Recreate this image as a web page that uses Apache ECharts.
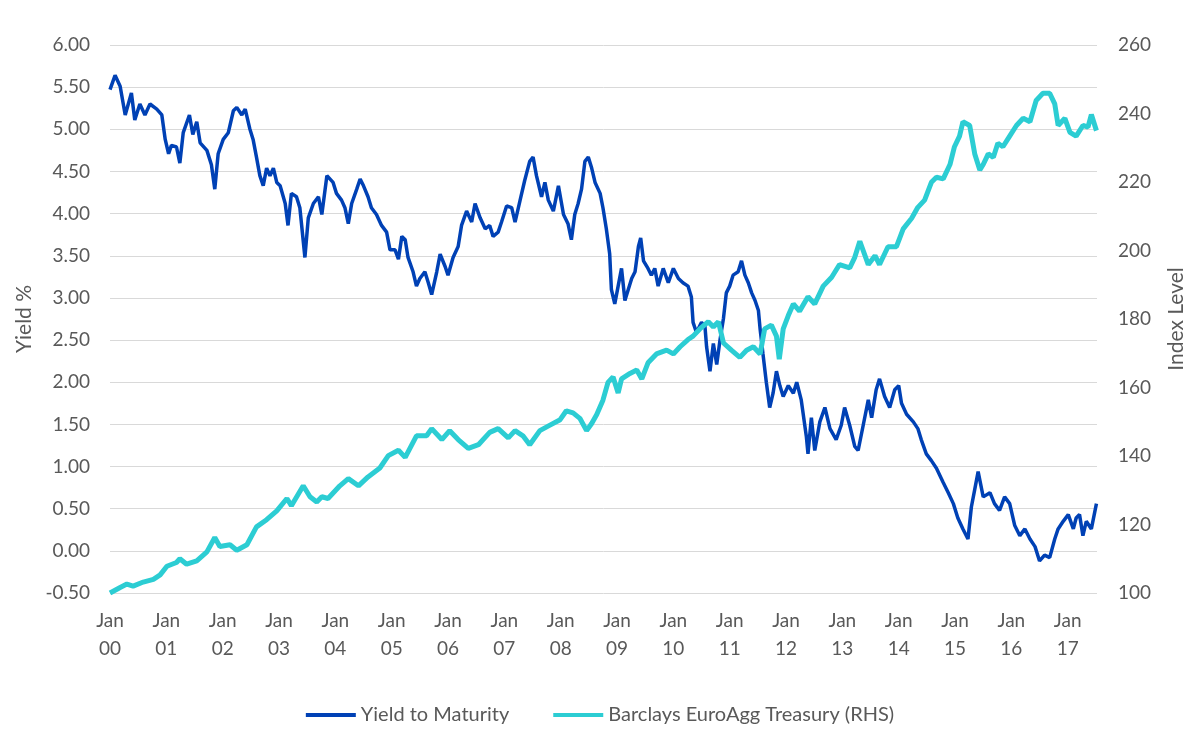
<!DOCTYPE html>
<html>
<head>
<meta charset="utf-8">
<script src="https://cdn.jsdelivr.net/npm/echarts@6/dist/echarts.min.js"></script>
<style>
  html, body { margin: 0; padding: 0; background: #fff; }
  #main { width: 1200px; height: 739px; }
</style>
</head>
<body>
<div id="main"></div>
<script>
// x = years since Jan 2000
const yearTicks = ['00', '01', '02', '03', '04', '05', '06', '07', '08', '09',
  '10', '11', '12', '13', '14', '15', '16', '17'];

const seriesNames = ['Yield to Maturity', 'Barclays EuroAgg Treasury (RHS)'];

const ytm = [
  [0, 5.47], [0.09, 5.64], [0.18, 5.51], [0.27, 5.17], [0.38, 5.43], [0.44, 5.11], [0.53, 5.30], [0.62, 5.17],
  [0.71, 5.30], [0.83, 5.24], [0.92, 5.17], [0.98, 4.88], [1.04, 4.71], [1.09, 4.81], [1.18, 4.79], [1.24, 4.60],
  [1.30, 4.96], [1.41, 5.17], [1.47, 4.94], [1.54, 5.09], [1.60, 4.84], [1.72, 4.75], [1.80, 4.58], [1.86, 4.29],
  [1.92, 4.71], [2.01, 4.88], [2.10, 4.96], [2.19, 5.22], [2.25, 5.26], [2.34, 5.17], [2.40, 5.24], [2.48, 5.01],
  [2.54, 4.88], [2.60, 4.67], [2.66, 4.45], [2.72, 4.33], [2.78, 4.54], [2.84, 4.45], [2.90, 4.54], [2.96, 4.37],
  [3.02, 4.33], [3.11, 4.12], [3.16, 3.86], [3.22, 4.24], [3.31, 4.20], [3.37, 4.07], [3.46, 3.48], [3.52, 3.95],
  [3.61, 4.12], [3.70, 4.20], [3.76, 3.99], [3.85, 4.45], [3.96, 4.37], [4.02, 4.24], [4.11, 4.16], [4.17, 4.07],
  [4.23, 3.88], [4.29, 4.12], [4.38, 4.29], [4.44, 4.41], [4.50, 4.33], [4.58, 4.20], [4.64, 4.07], [4.73, 3.99],
  [4.82, 3.86], [4.91, 3.78], [4.97, 3.57], [5.06, 3.57], [5.12, 3.46], [5.18, 3.73], [5.24, 3.69], [5.29, 3.48],
  [5.38, 3.31], [5.44, 3.14], [5.50, 3.23], [5.59, 3.31], [5.65, 3.18], [5.71, 3.04], [5.80, 3.31], [5.86, 3.52],
  [5.95, 3.37], [6.00, 3.27], [6.09, 3.48], [6.18, 3.61], [6.24, 3.86], [6.33, 4.03], [6.42, 3.90], [6.48, 4.12],
  [6.57, 3.95], [6.66, 3.82], [6.74, 3.86], [6.80, 3.73], [6.89, 3.78], [6.95, 3.90], [7.04, 4.09], [7.13, 4.07],
  [7.19, 3.90], [7.28, 4.16], [7.36, 4.39], [7.45, 4.62], [7.51, 4.67], [7.57, 4.45], [7.66, 4.20], [7.72, 4.37],
  [7.78, 4.16], [7.87, 4.03], [7.96, 4.33], [8.05, 3.99], [8.13, 3.88], [8.19, 3.69], [8.25, 3.99], [8.31, 4.12],
  [8.37, 4.29], [8.43, 4.62], [8.49, 4.67], [8.55, 4.54], [8.61, 4.37], [8.70, 4.24], [8.75, 4.07], [8.81, 3.82],
  [8.87, 3.52], [8.90, 3.10], [8.96, 2.93], [9.02, 3.14], [9.08, 3.35], [9.14, 2.97], [9.20, 3.10], [9.26, 3.23],
  [9.32, 3.31], [9.38, 3.61], [9.42, 3.71], [9.47, 3.44], [9.55, 3.35], [9.61, 3.27], [9.67, 3.35], [9.73, 3.14],
  [9.82, 3.35], [9.91, 3.18], [10.00, 3.35], [10.09, 3.23], [10.17, 3.18], [10.26, 3.14], [10.32, 3.01], [10.35, 2.71],
  [10.41, 2.59], [10.50, 2.71], [10.56, 2.67], [10.59, 2.42], [10.65, 2.13], [10.71, 2.46], [10.77, 2.21], [10.83, 2.51],
  [10.89, 2.76], [10.94, 3.06], [11.00, 3.14], [11.06, 3.27], [11.15, 3.31], [11.21, 3.44], [11.27, 3.27], [11.33, 3.18],
  [11.39, 3.06], [11.45, 2.97], [11.51, 2.85], [11.54, 2.63], [11.59, 2.34], [11.65, 2.00], [11.71, 1.70], [11.77, 1.87],
  [11.83, 2.13], [11.89, 1.96], [11.95, 1.83], [12.04, 1.96], [12.13, 1.87], [12.19, 2.00], [12.27, 1.79], [12.36, 1.36],
  [12.39, 1.15], [12.45, 1.58], [12.51, 1.19], [12.60, 1.53], [12.69, 1.70], [12.78, 1.45], [12.89, 1.32], [12.98, 1.49],
  [13.04, 1.70], [13.13, 1.49], [13.22, 1.24], [13.28, 1.19], [13.37, 1.49], [13.46, 1.79], [13.52, 1.58], [13.60, 1.91],
  [13.66, 2.04], [13.75, 1.83], [13.84, 1.70], [13.93, 1.91], [14.00, 1.96], [14.05, 1.75], [14.14, 1.62], [14.26, 1.53],
  [14.34, 1.45], [14.40, 1.32], [14.49, 1.15], [14.58, 1.07], [14.67, 0.98], [14.79, 0.81], [14.88, 0.69], [14.97, 0.56],
  [15.05, 0.39], [15.14, 0.26], [15.23, 0.14], [15.29, 0.52], [15.35, 0.73], [15.41, 0.94], [15.50, 0.64], [15.62, 0.69],
  [15.70, 0.56], [15.79, 0.48], [15.88, 0.64], [15.97, 0.56], [16.06, 0.30], [16.15, 0.18], [16.24, 0.26], [16.33, 0.14],
  [16.42, 0.05], [16.50, -0.12], [16.59, -0.05], [16.68, -0.08], [16.77, 0.14], [16.83, 0.26], [16.92, 0.35], [17.01, 0.43],
  [17.10, 0.26], [17.15, 0.39], [17.21, 0.43], [17.27, 0.18], [17.33, 0.35], [17.42, 0.26], [17.51, 0.56]
];

const euroAgg = [
  [0, 100], [0.18, 101.6], [0.30, 102.6], [0.41, 102], [0.59, 103.2], [0.77, 104], [0.89, 105.3], [1.01, 107.8],
  [1.18, 108.9], [1.24, 110], [1.36, 108.4], [1.54, 109.4], [1.72, 112], [1.86, 116.2], [1.95, 113.6], [2.13, 114.1],
  [2.25, 112.5], [2.43, 114.1], [2.60, 119.3], [2.78, 121.4], [2.96, 124], [3.14, 127.6], [3.22, 125.5], [3.43, 131.3],
  [3.55, 128.1], [3.67, 126.6], [3.76, 128.1], [3.87, 127.6], [4.08, 131.3], [4.23, 133.4], [4.41, 131.3], [4.58, 133.9],
  [4.79, 136.5], [4.94, 140.1], [5.12, 141.7], [5.24, 139.6], [5.44, 145.9], [5.62, 145.9], [5.71, 148], [5.89, 144.8],
  [6.03, 147.4], [6.18, 144.8], [6.36, 142.2], [6.54, 143.3], [6.74, 146.9], [6.89, 148], [7.07, 145.3], [7.19, 147.4],
  [7.33, 145.9], [7.45, 143.3], [7.63, 147.4], [7.81, 149], [7.99, 150.6], [8.10, 153.2], [8.22, 152.6], [8.34, 151],
  [8.46, 147.4], [8.55, 149.5], [8.64, 152.1], [8.75, 156.3], [8.84, 161.5], [8.93, 163.1], [9.02, 158.4], [9.08, 162.5],
  [9.23, 164.1], [9.35, 165.1], [9.44, 162.5], [9.55, 167.2], [9.70, 169.8], [9.88, 170.9], [10.00, 169.8], [10.12, 171.9],
  [10.26, 174], [10.35, 175], [10.47, 177.1], [10.62, 179.2], [10.71, 177.7], [10.80, 179.2], [10.89, 173], [11.03, 170.9],
  [11.18, 168.8], [11.30, 170.9], [11.42, 171.9], [11.54, 169.8], [11.62, 177.1], [11.74, 178.2], [11.83, 175], [11.88, 168.3],
  [11.95, 177.1], [12.04, 181], [12.13, 184.4], [12.24, 182.3], [12.39, 186.5], [12.51, 184.4], [12.66, 189.6], [12.81, 192.2],
  [12.95, 195.9], [13.13, 194.9], [13.22, 198], [13.31, 202.7], [13.46, 195.9], [13.58, 198.5], [13.66, 195.9], [13.81, 201.1],
  [13.96, 201.1], [14.08, 206.3], [14.23, 209.4], [14.34, 212.6], [14.46, 214.7], [14.58, 219.9], [14.67, 221.4], [14.79, 220.9],
  [14.91, 225.1], [14.99, 230.3], [15.08, 233.4], [15.14, 237.6], [15.26, 236.5], [15.35, 228.2], [15.44, 223.5], [15.50, 225.1],
  [15.59, 228.2], [15.68, 227.2], [15.76, 231.3], [15.85, 230.3], [15.97, 233.4], [16.09, 236.5], [16.21, 238.6], [16.33, 237.6],
  [16.44, 243.8], [16.56, 245.9], [16.68, 245.9], [16.77, 242.8], [16.83, 236.5], [16.95, 238.6], [17.04, 234.5], [17.15, 233.4],
  [17.27, 236.5], [17.36, 236], [17.42, 239.7], [17.51, 235]
];

const textColor = '#595959';
const font = 'Lato, "Open Sans", sans-serif';

const option = {
  animation: false,
  textStyle: { fontFamily: font },
  grid: { left: 110, right: 103, top: 45, bottom: 146 },
  legend: {
    top: 700,
    left: 'center',
    itemWidth: 50,
    itemHeight: 4,
    itemGap: 44,
    icon: 'rect',
    textStyle: { color: textColor, fontSize: 20, fontFamily: font },
    data: seriesNames
  },
  xAxis: {
    type: 'value',
    min: 0,
    max: 17.52,
    interval: 1,
    axisLine: { show: false },
    axisTick: { show: false },
    splitLine: { show: false },
    axisLabel: {
      color: textColor,
      fontSize: 19,
      lineHeight: 28,
      margin: 14,
      showMaxLabel: false,
      formatter: function (v) {
        return Number.isInteger(v) && yearTicks[v] ? 'Jan\n' + yearTicks[v] : '';
      }
    }
  },
  yAxis: [
    {
      type: 'value',
      min: -0.5,
      max: 6,
      interval: 0.5,
      name: 'Yield %',
      nameLocation: 'middle',
      nameGap: 73,
      nameTextStyle: { color: textColor, fontSize: 21 },
      axisLine: { show: false },
      axisTick: { show: false },
      axisLabel: {
        color: textColor,
        fontSize: 19,
        margin: 20,
        formatter: function (v) { return v.toFixed(2); }
      },
      splitLine: { lineStyle: { color: '#D9D9D9', width: 1 } }
    },
    {
      type: 'value',
      min: 100,
      max: 260,
      interval: 20,
      name: 'Index Level',
      nameLocation: 'middle',
      nameGap: 69,
      nameTextStyle: { color: textColor, fontSize: 21 },
      axisLine: { show: false },
      axisTick: { show: false },
      axisLabel: { color: textColor, fontSize: 19, margin: 21 },
      splitLine: { show: false }
    }
  ],
  series: [
    {
      name: seriesNames[0],
      type: 'line',
      yAxisIndex: 0,
      data: ytm,
      showSymbol: false,
      lineStyle: { color: '#0041B5', width: 3.5 },
      itemStyle: { color: '#0041B5' },
      z: 2
    },
    {
      name: seriesNames[1],
      type: 'line',
      yAxisIndex: 1,
      data: euroAgg,
      showSymbol: false,
      lineStyle: { color: '#2CCDD3', width: 5 },
      itemStyle: { color: '#2CCDD3' },
      z: 3
    }
  ]
};

const myChart = echarts.init(document.getElementById('main'));
myChart.setOption(option);
</script>
</body>
</html>
